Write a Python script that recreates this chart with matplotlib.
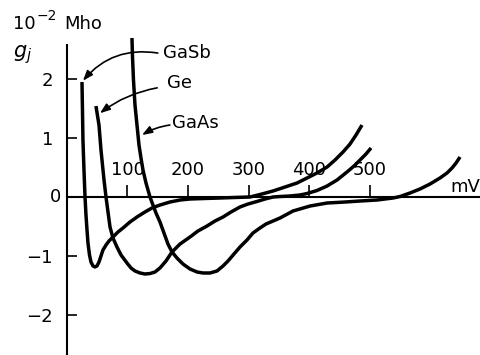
import matplotlib
matplotlib.use("Agg")
import matplotlib.pyplot as plt

plt.rcParams['font.family'] = ['DejaVu Sans']
plt.rcParams['mathtext.fontset'] = 'dejavusans'

# data: voltage (mV) and junction conductance g_j (10^-2 Mho)
gasb_mv = [24.8, 25.6, 26.4, 28.1, 29.8, 31.4, 33.1, 34.7, 37.2, 39.7, 43.0, 46.3, 49.6, 52.9,
           56.2, 59.5, 64.5, 69.4, 76.0, 84.3, 92.6, 104.1, 115.7, 128.9, 140.5, 153.7, 170.2,
           186.8, 203.3, 228.1, 252.9, 277.7, 302.5, 322.3, 340.5, 360.3, 380.2, 396.7, 413.2,
           429.8, 443.0, 456.2, 467.8, 477.7, 487.6]
gasb_g = [1.949, 1.475, 0.966, 0.458, 0.0, -0.305, -0.559, -0.780, -0.983, -1.102, -1.169,
          -1.186, -1.169, -1.102, -1.0, -0.898, -0.814, -0.746, -0.678, -0.593, -0.525, -0.424,
          -0.339, -0.254, -0.186, -0.136, -0.085, -0.051, -0.034, -0.025, -0.017, -0.008, 0.0,
          0.051, 0.102, 0.169, 0.237, 0.322, 0.407, 0.508, 0.627, 0.763, 0.898, 1.051, 1.220]

ge_mv = [47.9, 52.9, 56.2, 61.2, 64.5, 67.8, 71.1, 76.0, 82.6, 89.3, 99.2, 105.8, 112.4, 120.7,
         128.9, 137.2, 145.5, 153.7, 163.6, 173.6, 186.8, 203.3, 216.5, 231.4, 244.6, 257.9,
         271.1, 286.0, 299.2, 314.0, 327.3, 340.5, 352.1, 368.6, 385.1, 396.7, 413.2, 429.8,
         446.3, 462.8, 474.4, 484.3, 494.2, 502.5]
ge_g = [1.542, 1.220, 0.797, 0.288, 0.0, -0.254, -0.508, -0.695, -0.847, -0.983, -1.119, -1.203,
        -1.254, -1.288, -1.305, -1.297, -1.271, -1.203, -1.085, -0.932, -0.797, -0.678, -0.576,
        -0.492, -0.407, -0.339, -0.254, -0.169, -0.119, -0.076, -0.034, 0.0, 0.008, 0.017,
        0.034, 0.059, 0.110, 0.186, 0.288, 0.424, 0.525, 0.627, 0.729, 0.831]

gaas_mv = [107.4, 108.3, 109.9, 112.4, 115.7, 119.0, 122.3, 125.6, 130.6, 137.2, 142.1, 147.1,
           153.7, 160.3, 166.9, 173.6, 181.8, 191.7, 203.3, 214.9, 224.8, 236.4, 247.9, 257.9,
           266.1, 276.0, 286.0, 297.5, 307.4, 319.0, 328.9, 340.5, 352.1, 373.6, 401.7, 429.8,
           459.5, 484.3, 512.4, 538.8, 550.4, 567.0, 583.5, 600.0, 616.5, 628.1, 636.4, 643.0,
           649.6]
gaas_g = [2.695, 2.373, 1.983, 1.559, 1.220, 0.881, 0.661, 0.458, 0.237, 0.0, -0.136, -0.271,
          -0.424, -0.610, -0.797, -0.932, -1.034, -1.136, -1.220, -1.271, -1.288, -1.288, -1.254,
          -1.169, -1.085, -0.966, -0.847, -0.729, -0.610, -0.525, -0.458, -0.407, -0.356, -0.237,
          -0.153, -0.102, -0.085, -0.068, -0.051, -0.017, 0.008, 0.068, 0.136, 0.220, 0.322,
          0.407, 0.492, 0.576, 0.678]

x_ticks = [100, 200, 300, 400, 500]
x_tick_labels = ['100', '200', '300', '400', '500']
y_ticks = [-2, -1, 1, 2]
y_tick_labels = ['\u22122', '\u22121', '1', '2']

fig = plt.figure(figsize=(4.8, 3.55), dpi=100)
ax = fig.add_axes([0, 0, 1, 1])
ax.set_xlim(-110.7, 682.6)
ax.set_ylim(-2.678, 3.339)
ax.patch.set_visible(False)

lw = 2.5
for xs, ys in [(gasb_mv, gasb_g), (ge_mv, ge_g), (gaas_mv, gaas_g)]:
    ax.plot(xs, ys, color='black', lw=lw, solid_capstyle='butt', solid_joinstyle='round')

# spines through the origin
for s in ['top', 'right']:
    ax.spines[s].set_visible(False)
ax.spines['left'].set_position(('data', 0))
ax.spines['bottom'].set_position(('data', 0))
ax.spines['left'].set_bounds(-2.7, 2.58)
ax.spines['bottom'].set_bounds(0, 690)
ax.spines['left'].set_linewidth(1.5)
ax.spines['bottom'].set_linewidth(1.5)

fs = 13
ax.set_yticks(y_ticks)
ax.set_yticklabels(y_tick_labels)
ax.tick_params(axis='y', direction='in', length=7.2, width=1.2, pad=10, labelsize=fs)
ax.set_xticks(x_ticks)
ax.set_xticklabels([])
ax.tick_params(axis='x', direction='in', length=8.5, width=1.2)

for v, lab in zip(x_ticks, x_tick_labels):
    ax.text(v, 0.46, lab, ha='center', va='center', fontsize=fs)
ax.text(-9, 0.0, '0', ha='right', va='center', fontsize=fs)

ax.text(633, 0.17, 'mV', ha='left', va='center', fontsize=fs)
ax.text(-90, 2.93, '10', ha='left', va='center', fontsize=fs)
ax.text(-51, 3.06, '\u22122', ha='left', va='center', fontsize=10)
ax.text(-5, 2.93, 'Mho', ha='left', va='center', fontsize=fs)
ax.text(-89, 2.42, r'$g_j$', ha='left', va='center', fontsize=15)

# labels with arrows
ax.text(159, 2.44, 'GaSb', ha='left', va='center', fontsize=fs)
ax.text(165, 1.93, 'Ge', ha='left', va='center', fontsize=fs)
ax.text(173.5, 1.25, 'GaAs', ha='left', va='center', fontsize=fs)

aprops = dict(arrowstyle='-|>,head_length=0.6,head_width=0.22', color='black', lw=1.2,
              shrinkA=0, shrinkB=0)
ax.annotate('', xy=(26.4, 1.97), xytext=(150, 2.44),
            arrowprops=dict(connectionstyle='arc3,rad=0.28', **aprops))
ax.annotate('', xy=(54.5, 1.42), xytext=(149, 1.85),
            arrowprops=dict(connectionstyle='arc3,rad=0.12', **aprops))
ax.annotate('', xy=(124, 1.05), xytext=(170, 1.22),
            arrowprops=dict(connectionstyle='arc3,rad=0.1', **aprops))

fig.savefig('out.png', dpi=100)
